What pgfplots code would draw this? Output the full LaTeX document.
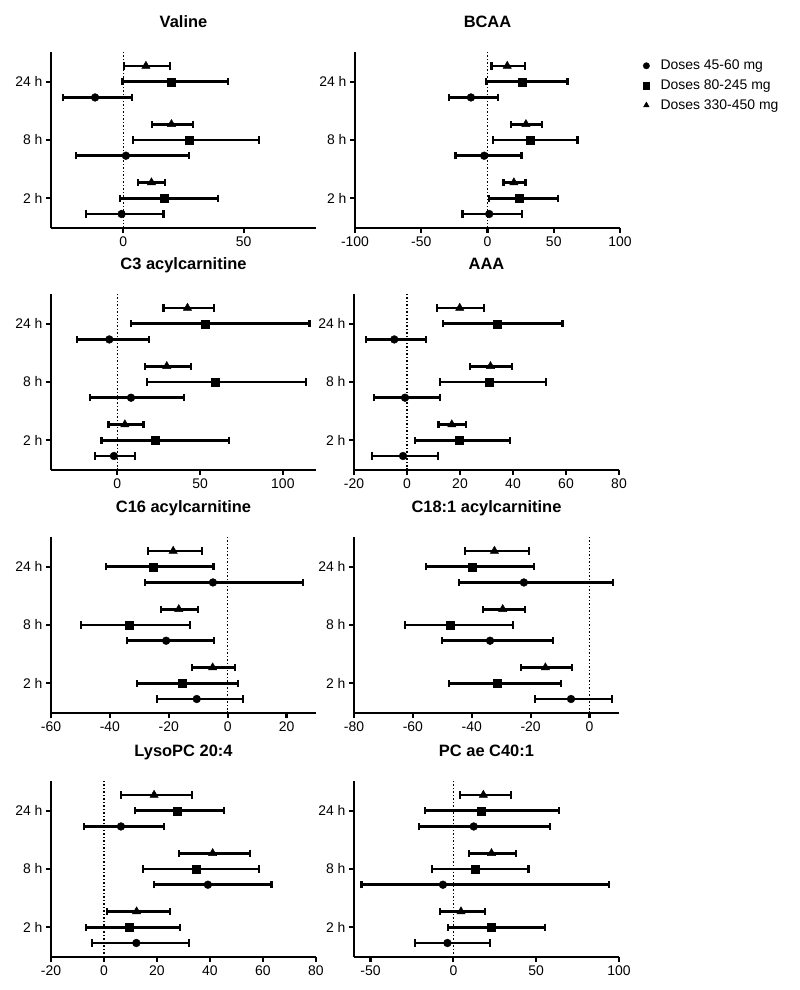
\documentclass[border=0pt]{standalone}
\usepackage{pgfplots}
\usepackage{pgfplotstable}
\pgfplotsset{compat=1.18}
\usepackage{fontspec}
\setmainfont{Liberation Sans}
\newcommand\tf{\fontsize{14}{16}\selectfont}
\newcommand\ttl{\fontsize{16.5}{19}\selectfont\bfseries}

% columns: t (1=2 h, 2=8 h, 3=24 h); c = 45-60 mg, s = 80-245 mg, r = 330-450 mg; v=estimate, lo/hi = interval
\pgfplotstableread{
t cv clo chi sv slo shi rv rlo rhi
1 -0.7 -15.6 16.7 17.1 -1.4 39.3 11.7 6.0 17.4
2 1.1 -19.6 27.2 27.5 3.9 56.5 20.0 11.9 29.0
3 -11.7 -24.9 3.6 19.7 -0.3 43.6 9.4 0.3 19.4
}\valine
\pgfplotstableread{
t cv clo chi sv slo shi rv rlo rhi
1 1.3 -18.9 26.2 24.2 1.0 53.1 19.9 12.1 28.7
2 -2.5 -24.2 25.7 32.5 4.3 67.9 29.0 17.7 41.0
3 -12.5 -29.1 8.1 26.0 -1.0 60.4 14.9 3.0 28.2
}\bcaa
\pgfplotstableread{
t cv clo chi sv slo shi rv rlo rhi
1 -2.0 -13.3 10.9 23.2 -9.5 67.5 4.6 -5.3 15.8
2 8.3 -16.4 40.2 59.2 17.9 114.1 29.9 16.8 44.4
3 -4.8 -24.1 19.2 53.1 8.3 116.1 42.4 27.9 58.6
}\cthree
\pgfplotstableread{
t cv clo chi sv slo shi rv rlo rhi
1 -1.5 -13.1 11.7 19.7 3.1 39.0 16.9 11.9 22.4
2 -0.75 -12.6 12.6 30.9 12.5 52.6 31.5 23.9 39.7
3 -4.8 -15.5 7.2 34.1 13.6 58.7 19.9 11.2 29.2
}\aaa
\pgfplotstableread{
t cv clo chi sv slo shi rv rlo rhi
1 -10.5 -23.9 5.3 -15.6 -30.9 3.5 -5.1 -12.2 2.6
2 -20.9 -34.3 -4.7 -33.6 -49.7 -12.7 -16.6 -22.7 -10.0
3 -5.0 -28.2 25.7 -25.2 -41.4 -4.8 -18.5 -27.0 -8.8
}\csixteen
\pgfplotstableread{
t cv clo chi sv slo shi rv rlo rhi
1 -6.3 -18.4 7.5 -31.3 -47.8 -9.7 -15.0 -23.2 -6.0
2 -33.8 -50.1 -12.3 -47.4 -62.6 -25.9 -29.5 -36.3 -21.8
3 -22.3 -44.3 7.9 -39.8 -55.5 -18.8 -32.3 -42.4 -20.6
}\ceighteen
\pgfplotstableread{
t cv clo chi sv slo shi rv rlo rhi
1 12.2 -4.5 32.1 9.4 -6.9 28.8 12.3 1.1 25.0
2 39.2 19.0 63.2 34.8 14.6 58.6 41.0 28.3 55.2
3 6.4 -7.5 22.5 27.5 11.8 45.4 18.9 6.5 33.2
}\lyso
\pgfplotstableread{
t cv clo chi sv slo shi rv rlo rhi
1 -3.6 -23.4 22.1 22.6 -3.4 55.4 4.6 -8.3 19.1
2 -6.3 -55.5 94.0 12.9 -12.7 45.4 23.0 9.4 37.9
3 12.3 -20.6 58.4 16.5 -17.2 63.7 18.1 3.8 34.8
}\pcae

\pgfplotsset{
  panel/.style={
    scale only axis, width=265bp, height=176bp,
    anchor=south west,
    axis lines*=left,
    axis line style={black, line width=2.2bp},
    tick align=outside,
    major tick length=5bp,
    major tick style={black, line width=2.2bp},
    ymin=0.49, ymax=3.51,
    ytick={1,2,3}, yticklabels={2 h, 8 h, 24 h},
    tick label style={font=\tf},
    /pgf/number format/assume math mode=true,
    title style={font=\ttl, at={(0.5,1)}, anchor=base, yshift=19bp},
    clip=false,
  },
  ebar/.style={black, only marks,
    error bars/x dir=both, error bars/x explicit,
    error bars/error bar style={line width=2.5bp},
    error bars/error mark options={line width=2.2bp, mark size=3.7bp, rotate=90}},
}
\newcommand\zeroline{\draw[black, dotted, line width=1.5bp] (axis cs:0,0.49) -- (axis cs:0,3.51);}
\newcommand\allseries[1]{%
  \addplot[ebar, mark=*, mark size=3.9bp]
    table[x=cv, y expr=\thisrow{t}-0.27, x error plus expr=\thisrow{chi}-\thisrow{cv}, x error minus expr=\thisrow{cv}-\thisrow{clo}] {#1};
  \addplot[ebar, mark=square*, mark size=4bp]
    table[x=sv, y expr=\thisrow{t}, x error plus expr=\thisrow{shi}-\thisrow{sv}, x error minus expr=\thisrow{sv}-\thisrow{slo}] {#1};
  \addplot[ebar, mark=triangle*, mark size=4.8bp]
    table[x=rv, y expr=\thisrow{t}+0.27, x error plus expr=\thisrow{rhi}-\thisrow{rv}, x error minus expr=\thisrow{rv}-\thisrow{rlo}] {#1};}

\begin{document}
\begin{tikzpicture}
\path[use as bounding box] (0,0) rectangle (800bp,990bp);

\begin{axis}[panel, at={(51bp,762bp)}, title={Valine}, xmin=-30, xmax=80, xtick={0,50}]
\zeroline
\allseries{\valine}
\end{axis}

\begin{axis}[panel, at={(355bp,762bp)}, title={BCAA}, xmin=-100, xmax=100, xtick={-100,-50,0,50,100},
  legend style={draw=none, fill=none, at={(1,1)}, anchor=north west, xshift=20bp, yshift=-4bp, font=\tf, row sep=4.5bp,
    /tikz/every odd column/.append style={column sep=9bp}},
  legend image post style={mark size=3.2bp},
  legend cell align=left]
\zeroline
\allseries{\bcaa}
\legend{Doses 45-60 mg, Doses 80-245 mg, Doses 330-450 mg}
\end{axis}

\begin{axis}[panel, at={(51bp,520bp)}, title={C3 acylcarnitine}, xmin=-40, xmax=120, xtick={0,50,100}]
\zeroline
\allseries{\cthree}
\end{axis}

\begin{axis}[panel, at={(354bp,520bp)}, title={AAA}, xmin=-20, xmax=80, xtick={-20,0,20,40,60,80}]
\zeroline
\allseries{\aaa}
\end{axis}

\begin{axis}[panel, at={(51bp,277bp)}, title={C16 acylcarnitine}, xmin=-60, xmax=30, xtick={-60,-40,-20,0,20}]
\zeroline
\allseries{\csixteen}
\end{axis}

\begin{axis}[panel, at={(354bp,277bp)}, title={C18:1 acylcarnitine}, xmin=-80, xmax=10, xtick={-80,-60,-40,-20,0}]
\zeroline
\allseries{\ceighteen}
\end{axis}

\begin{axis}[panel, at={(51bp,33bp)}, title={LysoPC 20:4}, xmin=-20, xmax=80, xtick={-20,0,20,40,60,80}]
\zeroline
\allseries{\lyso}
\end{axis}

\begin{axis}[panel, at={(354bp,33bp)}, title={PC ae C40:1}, xmin=-60, xmax=100, xtick={-50,0,50,100}]
\zeroline
\allseries{\pcae}
\end{axis}
\end{tikzpicture}
\end{document}
